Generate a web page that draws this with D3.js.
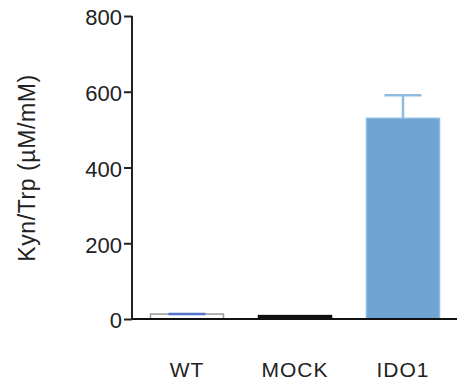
<!DOCTYPE html>
<html>
<head>
<meta charset="utf-8">
<script src="https://cdn.jsdelivr.net/npm/d3@7"></script>
<style>
  html, body { margin: 0; padding: 0; background: #fff; }
  svg { display: block; }
  text { font-family: "Liberation Sans", Arial, sans-serif; fill: #222; }
</style>
</head>
<body>
<svg id="chart" width="458" height="381"></svg>
<script>
const categories = ["WT", "MOCK", "IDO1"];
const means = [13, 9, 530];
const errors = [0, 0, 61];
const yTicks = [0, 200, 400, 600, 800];
const yTitle = "Kyn/Trp (µM/mM)";

const fills = ["#ffffff", "#111111", "#6fa3d2"];
const strokes = ["#9a9a9a", "#111111", "#8fbbe2"];
const errColors = ["#5572cc", "#111111", "#8fbbe2"];

const svg = d3.select("#chart");
const x0 = 132, x1 = 457, yBase = 319, yTop = 16;

const x = d3.scaleBand().domain(categories).range([x0 + 1, x1])
  .paddingInner(0.324).paddingOuter(0.162);
const y = d3.scaleLinear().domain([0, 800]).range([yBase, yTop]);

// bars
svg.append("g").selectAll("rect").data(categories).join("rect")
  .attr("x", d => x(d))
  .attr("width", x.bandwidth())
  .attr("y", (d, i) => y(means[i]))
  .attr("height", (d, i) => yBase - y(means[i]))
  .attr("fill", (d, i) => fills[i])
  .attr("stroke", (d, i) => strokes[i])
  .attr("stroke-width", 1.5);

// error bars
const capW = 37;
const eg = svg.append("g");
categories.forEach((c, i) => {
  const cx = x(c) + x.bandwidth() / 2;
  const top = y(means[i] + errors[i]);
  if (errors[i] > 0) {
    eg.append("line").attr("x1", cx).attr("x2", cx)
      .attr("y1", y(means[i])).attr("y2", top)
      .attr("stroke", errColors[i]).attr("stroke-width", 2.5);
  }
  if (i !== 1) {
    eg.append("line").attr("x1", cx - capW / 2).attr("x2", cx + capW / 2)
      .attr("y1", top).attr("y2", top)
      .attr("stroke", errColors[i]).attr("stroke-width", 2.5);
  }
});

// y axis
const yAxis = d3.axisLeft(y).tickValues(yTicks).tickSize(8).tickPadding(2).tickFormat(d3.format("d"));
const gy = svg.append("g").attr("transform", `translate(${x0},0)`).call(yAxis);
gy.select(".domain").attr("stroke", "#222").attr("stroke-width", 2).attr("d", `M0,${yTop}V${yBase}`);
gy.selectAll(".tick line").attr("stroke", "#222").attr("stroke-width", 2);
gy.selectAll(".tick text").style("font-size", "22px").attr("fill", "#222").attr("dy", "0.4em");

// x axis
const xAxis = d3.axisBottom(x).tickSize(0).tickPadding(0);
const gx = svg.append("g").attr("transform", `translate(0,${yBase})`).call(xAxis);
gx.select(".domain").attr("stroke", "#111").attr("stroke-width", 2).attr("d", `M${x0},0H${x1}`);
gx.selectAll(".tick text").style("font-size", "21px").style("letter-spacing", "1px")
  .attr("y", 58).attr("dy", 0).attr("fill", "#222");

// y title
svg.append("text")
  .attr("transform", `translate(35,168) rotate(-90)`)
  .attr("text-anchor", "middle")
  .style("font-size", "23px")
  .style("letter-spacing", "0.6px")
  .text(yTitle);
</script>
</body>
</html>
